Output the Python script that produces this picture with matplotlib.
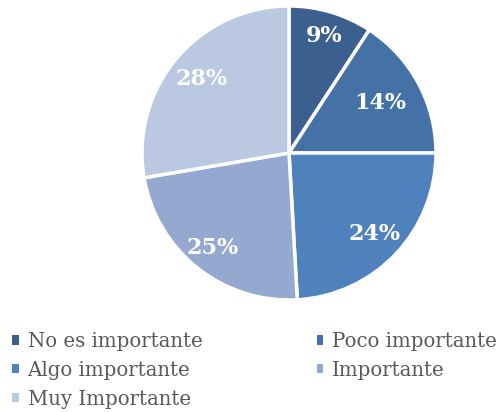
import matplotlib
matplotlib.use("Agg")
import numpy as np
import matplotlib.pyplot as plt
from matplotlib.patches import Patch

categorias = ["No es importante", "Poco importante", "Algo importante",
              "Importante", "Muy Importante"]
# tamaño de cada sector tal como se ve en la imagen
sectores = [9.2, 15.8, 24.1, 23.2, 27.7]
# texto de las etiquetas tal como aparece
etiquetas = ["9%", "14%", "24%", "25%", "28%"]
colores = ["#3B5F8E", "#4472A7", "#4F81BD", "#95A9D0", "#BAC8E1"]

# distancia de cada etiqueta al centro (fracción del radio)
dist_etiq = [0.83, 0.71, 0.80, 0.83, 0.78]

plt.rcParams["font.family"] = ["DejaVu Serif"]

fig = plt.figure(figsize=(5.03, 4.12), dpi=100)
ax = fig.add_axes([142 / 503, 112 / 412, 294 / 503, 294 / 412])

wedges, textos = ax.pie(
    sectores, colors=colores, startangle=90, counterclock=False, radius=1,
    wedgeprops=dict(edgecolor="white", linewidth=2.5))

for w, txt, d in zip(wedges, etiquetas, dist_etiq):
    ang = np.deg2rad((w.theta1 + w.theta2) / 2)
    ax.text(d * np.cos(ang), d * np.sin(ang), txt, ha="center", va="center",
            color="white", fontsize=16, fontweight="bold")

ax.set_xlim(-1, 1)
ax.set_ylim(-1, 1)
ax.set_aspect("equal")

# orden por filas como en la leyenda original
orden = [0, 2, 4, 1, 3]
handles = [Patch(facecolor=colores[i], edgecolor="none") for i in orden]
labels = [categorias[i] for i in orden]
leg = fig.legend(handles, labels, ncol=2, loc="upper left",
                 bbox_to_anchor=(12 / 503, 1 - 332 / 412), frameon=False,
                 fontsize=14.2, handlelength=0.34, handleheight=0.34,
                 handletextpad=0.45, columnspacing=5.8, labelspacing=0.5,
                 borderaxespad=0, borderpad=0)
for t in leg.get_texts():
    t.set_color("#595959")

fig.savefig("out.png", dpi=100)
